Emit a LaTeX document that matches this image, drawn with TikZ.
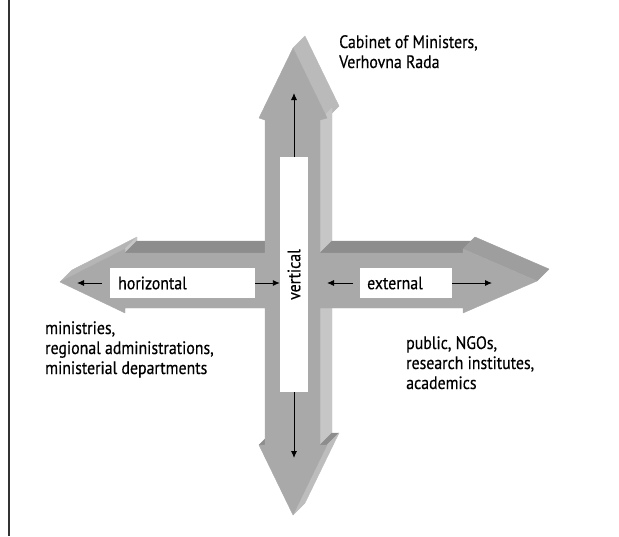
\documentclass[tikz,border=0pt]{standalone}
\usepackage{fontspec}
\setmainfont{PT Sans}[FakeStretch=0.88,FakeBold=0.4]
\usetikzlibrary{arrows.meta,calc}
\definecolor{cFront}{HTML}{A9A9A9}
\definecolor{cTop}{HTML}{8D8D8D}
\definecolor{cRight}{HTML}{C6C6C6}
\definecolor{cHeadR}{HTML}{BABABA}
\definecolor{cHeadRU}{HTML}{9E9E9E}
\definecolor{cHeadBR}{HTML}{BDBDBD}
\definecolor{cHeadLU}{HTML}{B5B5B5}
\definecolor{cBorder}{HTML}{333333}
\newcommand{\sideface}[3]{\filldraw[#1] (#2) -- (#3) -- ([shift={(12,-12)}]#3) -- ([shift={(12,-12)}]#2) -- cycle;}
\begin{document}
\begin{tikzpicture}[x=1pt,y=-1pt,
  face/.style={fill=#1,draw=#1,line width=0.4pt,line join=round},
  lbl/.style={inner sep=0pt,align=left,font=\fontsize{18}{20}\selectfont,text=black},
  wbox/.style={fill=white,draw=none,inner sep=0pt,font=\fontsize{18}{20}\selectfont},
  arr/.style={-{Latex[length=7pt,width=6pt]},line width=0.9pt,black}]
\useasboundingbox (0,0) rectangle (619,536);
\draw[cBorder,line width=1.6pt] (9,0) -- (9,536);
% outline points of the front face
\coordinate (P1) at (293,48);
\coordinate (P2) at (327,118);
\coordinate (P3) at (320,120);
\coordinate (P4) at (320,253);
\coordinate (P5) at (463,253);
\coordinate (P6) at (463,249);
\coordinate (P7) at (537,281);
\coordinate (P8) at (463,313);
\coordinate (P9) at (463,308);
\coordinate (P10) at (320,308);
\coordinate (P11) at (320,445);
\coordinate (P12) at (327,445);
\coordinate (P13) at (293,515);
\coordinate (P14) at (259,445);
\coordinate (P15) at (265,445);
\coordinate (P16) at (265,308);
\coordinate (P17) at (125,308);
\coordinate (P18) at (125,313);
\coordinate (P19) at (60,282);
\coordinate (P20) at (125,249);
\coordinate (P21) at (125,253);
\coordinate (P22) at (265,253);
\coordinate (P23) at (265,120);
\coordinate (P24) at (259,118);
% visible side faces
\sideface{face=cHeadR}{P1}{P2}
\sideface{face=cRight}{P3}{P4}
\sideface{face=cTop}{P4}{P5}
\sideface{face=cHeadRU}{P6}{P7}
\sideface{face=cRight}{P10}{P11}
\sideface{face=cTop}{P11}{P12}
\sideface{face=cHeadBR}{P12}{P13}
\sideface{face=cTop}{P14}{P15}
\sideface{face=cHeadLU}{P19}{P20}
\sideface{face=cRight}{P20}{P21}
\sideface{face=cTop}{P21}{P22}
% front face
\filldraw[face=cFront] (P1) -- (P2) -- (P3) -- (P4) -- (P5) -- (P6) -- (P7) -- (P8) -- (P9) -- (P10) -- (P11) -- (P12) -- (P13) -- (P14) -- (P15) -- (P16) -- (P17) -- (P18) -- (P19) -- (P20) -- (P21) -- (P22) -- (P23) -- (P24) -- cycle;
% white boxes
\node[wbox,anchor=west,minimum width=145pt,minimum height=30pt,text width=139pt,align=left] (hbox) at (110,283) {\hspace*{5pt}horizontal};
\node[wbox,anchor=west,minimum width=92pt,minimum height=30pt,text width=88pt,align=left] (ebox) at (360,283) {\hspace*{5pt}external};
\node[wbox,minimum width=28pt,minimum height=235pt] (vbox) at (294,274.5) {};
\node[inner sep=0pt,rotate=90,font=\fontsize{18}{20}\selectfont] (vtext) at (vbox.center) {vertical};
% arrows
\coordinate (hL) at (77,283);
\coordinate (hLs) at (102,283);
\coordinate (eL) at (327,283);
\coordinate (eLs) at (353,283);
\coordinate (eR) at (492,283);
\coordinate (vU) at (294,93);
\coordinate (vD) at (294,458);
\draw[arr] (hLs) -- (hL);
\draw[arr] (hbox.east) -- (hbox.east -| vbox.west);
\draw[arr] (eLs) -- (eL);
\draw[arr] (ebox.east) -- (eR);
\draw[arr] (vbox.north) -- (vU);
\draw[arr] (vbox.south) -- (vD);
% labels (base anchor = last line)
\node[lbl,anchor=base west] (top) at (339,68) {Cabinet of Ministers,\\Verhovna Rada};
\node[lbl,anchor=base west] (left) at (45,374) {ministries,\\regional administrations,\\ministerial departments};
\node[lbl,anchor=base west] (right) at (406,389) {public, NGOs,\\research institutes,\\academics};
\end{tikzpicture}
\end{document}
